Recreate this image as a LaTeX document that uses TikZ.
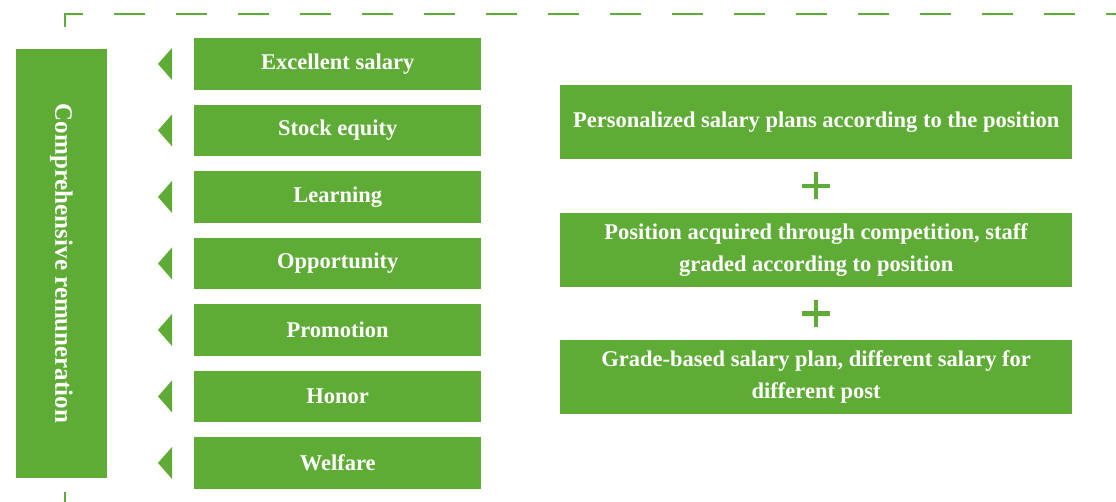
\documentclass[tikz,border=0pt]{standalone}
\usepackage{fontspec}
\setmainfont{Liberation Serif}
\usetikzlibrary{positioning}
\usetikzlibrary{calc}
\definecolor{leafgreen}{RGB}{94,172,54}
\tikzset{
  bar/.style={fill=leafgreen,text=white,inner sep=0pt,
    font=\bfseries\fontsize{25}{29}\selectfont},
  item/.style={fill=leafgreen,text=white,inner sep=0pt,
    minimum width=287pt,minimum height=51.5pt,
    font=\bfseries\fontsize{22.5}{26}\selectfont},
  plan/.style={fill=leafgreen,text=white,inner sep=0pt,align=center,
    minimum width=512pt,minimum height=74pt,
    font=\bfseries\fontsize{22.5}{32}\selectfont},
  pointer/.style={fill=leafgreen},
  plusbar/.style={draw=leafgreen,line width=4.5pt},
  frame/.style={draw=leafgreen,line width=2.5pt,dash pattern=on 31pt off 31pt}
}
\begin{document}
\begin{tikzpicture}[x=1pt,y=-1pt,node distance=14.6pt]
    \clip (0,0) rectangle (1116,501);
    \draw[frame] (1137,14) -- (65,14) -- (65,520);
    \node[bar,rotate=-90,minimum width=429pt,minimum height=91pt] (total) at (61.5,263.5) {Comprehensive remuneration};
    \node[item,anchor=north west] (salary) at (194,38) {Excellent salary};
    \node[item,below=of salary] (stock) {Stock equity};
    \node[item,below=of stock] (learning) {Learning};
    \node[item,below=of learning] (opportunity) {Opportunity};
    \node[item,below=of opportunity] (promotion) {Promotion};
    \node[item,below=of promotion] (honor) {Honor};
    \node[item,below=of honor] (welfare) {Welfare};
    \foreach \n in {salary,stock,learning,opportunity,promotion,honor,welfare}
      \fill[pointer] ([xshift=-22pt]\n.west) ++(0pt,16pt) -- ++(0pt,-32pt) -- ++(-14pt,16pt) -- cycle;
    \node[plan,anchor=north west] (personal) at (560,85) {Personalized salary plans according to the position};
    \node[plan,below=53pt of personal] (graded) {Position acquired through competition, staff\\graded according to position};
    \node[plan,below=53pt of graded] (gradebased) {Grade-based salary plan, different salary for\\different post};
    \coordinate (plusA) at ($(personal.south)!.5!(graded.north)$);
    \coordinate (plusB) at ($(graded.south)!.5!(gradebased.north)$);
    \foreach \p in {plusA,plusB}
      \draw[plusbar] ([xshift=-14pt]\p) -- ([xshift=14pt]\p) ([yshift=-13.5pt]\p) -- ([yshift=13.5pt]\p);
\end{tikzpicture}
\end{document}
